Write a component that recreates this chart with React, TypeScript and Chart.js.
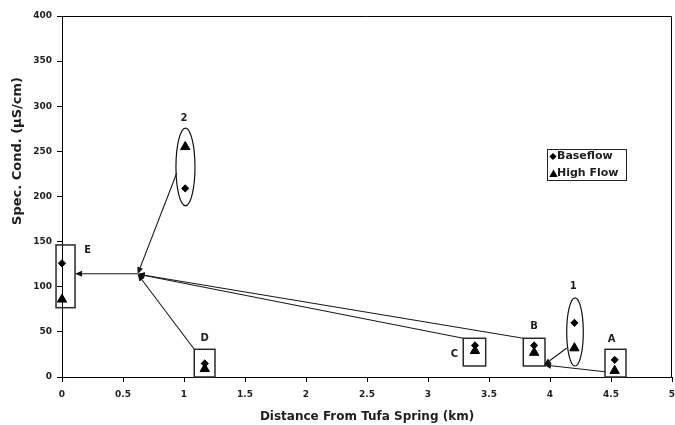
import React, { useEffect, useRef } from "react";
import { Chart, registerables } from "chart.js";

Chart.register(...registerables);

const FONT = '"DejaVu Sans", "Liberation Sans", Arial, sans-serif';
const TEXT = "#1e1e1e";

// ---- data ----
const siteNames = ["E", "2", "D", "C", "B", "1", "A"];
const distanceKm = [0, 1.01, 1.17, 3.385, 3.87, 4.2, 4.53];
const baseflow = [126, 209, 15, 35, 35, 60, 19];
const highFlow = [86, 255, 9, 29, 27, 32, 7];

const xTickValues = [0, 0.5, 1, 1.5, 2, 2.5, 3, 3.5, 4, 4.5, 5];
const yTickValues = [0, 50, 100, 150, 200, 250, 300, 350, 400];

const legendLabels = ["Baseflow", "High Flow"];
const xTitle = "Distance From Tufa Spring (km)";
const yTitle = "Spec. Cond. (µS/cm)";

// site label anchors (data units)
const labelX = [0.21, 1.0, 1.17, 3.216, 3.87, 4.19, 4.505];
const labelY = [140.7, 286.6, 42.8, 25.5, 55.7, 100, 41.8];

// rectangles around sites E, D, C, B, A (data units)
const boxXMin = [-0.049, 1.084, 3.289, 3.781, 4.451];
const boxXMax = [0.107, 1.254, 3.473, 3.959, 4.623];
const boxYMin = [76.8, 0, 12.2, 12.2, 0];
const boxYMax = [146.3, 30.7, 42.9, 42.9, 30.7];

// ellipses around sites 2 and 1 (data units)
const ellipseCX = [1.012, 4.205];
const ellipseCY = [232.7, 49.9];
const ellipseRX = [0.078, 0.068];
const ellipseRY = [43, 37.7];

// flow arrows (data units), head at the "to" end
const arrowFromX = [0.94, 1.084, 3.289, 3.781, 4.451, 4.137, 0.62];
const arrowFromY = [225.7, 30.7, 42.9, 42.9, 5.9, 32.1, 114.4];
const arrowToX = [0.62, 0.62, 0.62, 0.62, 3.951, 3.951, 0.107];
const arrowToY = [114, 114, 114, 114, 13.3, 13.3, 114.4];

function drawArrow(ctx: CanvasRenderingContext2D, x1: number, y1: number, x2: number, y2: number) {
  const ang = Math.atan2(y2 - y1, x2 - x1);
  const len = 7;
  const half = 3;
  const bx = x2 - len * Math.cos(ang);
  const by = y2 - len * Math.sin(ang);
  ctx.beginPath();
  ctx.moveTo(x1, y1);
  ctx.lineTo(bx, by);
  ctx.stroke();
  ctx.beginPath();
  ctx.moveTo(x2, y2);
  ctx.lineTo(bx + half * Math.sin(ang), by - half * Math.cos(ang));
  ctx.lineTo(bx - half * Math.sin(ang), by + half * Math.cos(ang));
  ctx.closePath();
  ctx.fill();
}

function diamond(ctx: CanvasRenderingContext2D, x: number, y: number, r: number) {
  ctx.beginPath();
  ctx.moveTo(x - r, y);
  ctx.lineTo(x, y - r);
  ctx.lineTo(x + r, y);
  ctx.lineTo(x, y + r);
  ctx.closePath();
  ctx.fill();
}

function triangle(ctx: CanvasRenderingContext2D, x: number, y: number, r: number) {
  ctx.beginPath();
  for (let k = 0; k < 3; k++) {
    const a = (k * 2 * Math.PI) / 3;
    const xx = x + Math.sin(a) * r;
    const yy = y - Math.cos(a) * r;
    if (k === 0) ctx.moveTo(xx, yy);
    else ctx.lineTo(xx, yy);
  }
  ctx.closePath();
  ctx.fill();
}

const overlayPlugin = {
  id: "overlay",
  beforeDatasetsDraw(chart: any) {
    const { ctx, chartArea: a, scales } = chart;
    const px = (v: number) => scales.x.getPixelForValue(v);
    const py = (v: number) => scales.y.getPixelForValue(v);
    ctx.save();
    // frame top and right
    ctx.strokeStyle = "#000";
    ctx.lineWidth = 1;
    const t = Math.round(a.top) + 0.5;
    const r = Math.round(a.right) - 0.5;
    ctx.beginPath();
    ctx.moveTo(a.left, t);
    ctx.lineTo(r, t);
    ctx.lineTo(r, a.bottom);
    ctx.stroke();

    // boxes
    ctx.strokeStyle = "#2a2a2a";
    ctx.lineWidth = 1.5;
    for (let i = 0; i < boxXMin.length; i++) {
      const x0 = px(boxXMin[i]);
      const x1 = px(boxXMax[i]);
      const y0 = py(boxYMax[i]);
      const y1 = py(boxYMin[i]);
      ctx.strokeRect(x0, y0, x1 - x0, y1 - y0);
    }

    // ellipses
    ctx.strokeStyle = "#111";
    ctx.lineWidth = 1.2;
    for (let i = 0; i < ellipseCX.length; i++) {
      const cx = px(ellipseCX[i]);
      const cy = py(ellipseCY[i]);
      const rx = px(ellipseCX[i] + ellipseRX[i]) - cx;
      const ry = cy - py(ellipseCY[i] + ellipseRY[i]);
      ctx.beginPath();
      ctx.ellipse(cx, cy, rx, ry, 0, 0, Math.PI * 2);
      ctx.stroke();
    }

    // arrows
    ctx.strokeStyle = "#1a1a1a";
    ctx.fillStyle = "#111";
    ctx.lineWidth = 1.1;
    for (let i = 0; i < arrowFromX.length; i++) {
      drawArrow(ctx, px(arrowFromX[i]), py(arrowFromY[i]), px(arrowToX[i]), py(arrowToY[i]));
    }
    ctx.restore();
  },
  afterDatasetsDraw(chart: any) {
    const { ctx, chartArea: a, scales } = chart;
    const px = (v: number) => scales.x.getPixelForValue(v);
    const py = (v: number) => scales.y.getPixelForValue(v);
    ctx.save();
    ctx.fillStyle = TEXT;
    ctx.textAlign = "center";
    ctx.textBaseline = "middle";
    ctx.font = `bold 10px ${FONT}`;
    for (let i = 0; i < siteNames.length; i++) {
      ctx.fillText(siteNames[i], px(labelX[i]), py(labelY[i]));
    }

    // legend
    const lx = a.right - 125;
    const ly = a.top + 133;
    ctx.strokeStyle = "#222";
    ctx.lineWidth = 1;
    ctx.strokeRect(Math.round(lx) + 0.5, Math.round(ly) + 0.5, 79, 31);
    ctx.fillStyle = "#000";
    diamond(ctx, lx + 6, ly + 7.5, 3.6);
    triangle(ctx, lx + 6.5, ly + 25.5, 4.9);
    ctx.fillStyle = TEXT;
    ctx.textAlign = "left";
    ctx.font = `bold 11px ${FONT}`;
    ctx.fillText(legendLabels[0], lx + 10, ly + 7.5);
    ctx.fillText(legendLabels[1], lx + 10, ly + 24.5);

    // axis titles
    ctx.textAlign = "center";
    ctx.font = `bold 12px ${FONT}`;
    ctx.fillText(xTitle, (a.left + a.right) / 2, 417);
    ctx.save();
    ctx.translate(18, 151);
    ctx.rotate(-Math.PI / 2);
    ctx.font = `bold 13px ${FONT}`;
    ctx.fillText(yTitle, 0, 0);
    ctx.restore();
    ctx.restore();
  },
};

export default function App() {
  const ref = useRef<HTMLCanvasElement>(null);
  useEffect(() => {
    const canvas = ref.current;
    if (!canvas) return;
    const tickFont = { family: FONT, size: 9, weight: "bold" as const };
    const chart = new Chart(canvas, {
      type: "scatter",
      data: {
        datasets: [
          {
            label: legendLabels[0],
            data: distanceKm.map((x, i) => ({ x, y: baseflow[i] })),
            pointStyle: "rectRot",
            pointRadius: 3.6,
            backgroundColor: "#000",
            borderColor: "#000",
            borderWidth: 1,
            clip: false as any,
          },
          {
            label: legendLabels[1],
            data: distanceKm.map((x, i) => ({ x, y: highFlow[i] })),
            pointStyle: "triangle",
            pointRadius: 5.4,
            backgroundColor: "#000",
            borderColor: "#000",
            borderWidth: 1,
            clip: false as any,
          },
        ],
      },
      options: {
        responsive: false,
        animation: false,
        events: [],
        layout: { autoPadding: false, padding: { top: 16, right: 3, bottom: 0, left: 0 } } as any,
        plugins: { legend: { display: false }, tooltip: { enabled: false } },
        scales: {
          x: {
            type: "linear",
            min: 0,
            max: 5,
            afterBuildTicks: (s: any) => {
              s.ticks = xTickValues.map((v) => ({ value: v }));
            },
            afterFit: (s: any) => {
              s.height = 48;
              s.paddingLeft = 0;
              s.paddingRight = 0;
            },
            grid: { drawOnChartArea: false, drawTicks: true, tickLength: 5, color: "#000", lineWidth: 1 },
            border: { display: true, color: "#000", width: 1 },
            ticks: { font: tickFont, color: TEXT, padding: 7, maxRotation: 0, autoSkip: false, callback: (v: any) => String(v) },
          },
          y: {
            type: "linear",
            min: 0,
            max: 400,
            afterBuildTicks: (s: any) => {
              s.ticks = yTickValues.map((v) => ({ value: v }));
            },
            afterFit: (s: any) => {
              s.width = 62;
              s.paddingTop = 0;
              s.paddingBottom = 0;
            },
            grid: { drawOnChartArea: false, drawTicks: true, tickLength: 5, color: "#000", lineWidth: 1 },
            border: { display: true, color: "#000", width: 1 },
            ticks: { font: tickFont, color: TEXT, padding: 5, autoSkip: false, callback: (v: any) => String(v) },
          },
        },
      },
      plugins: [overlayPlugin],
    });
    return () => chart.destroy();
  }, []);
  return (
    <div style={{ position: "absolute", left: 0, top: 0, width: 675, height: 425, background: "#fff" }}>
      <canvas ref={ref} width={675} height={425} style={{ display: "block" }} />
    </div>
  );
}
